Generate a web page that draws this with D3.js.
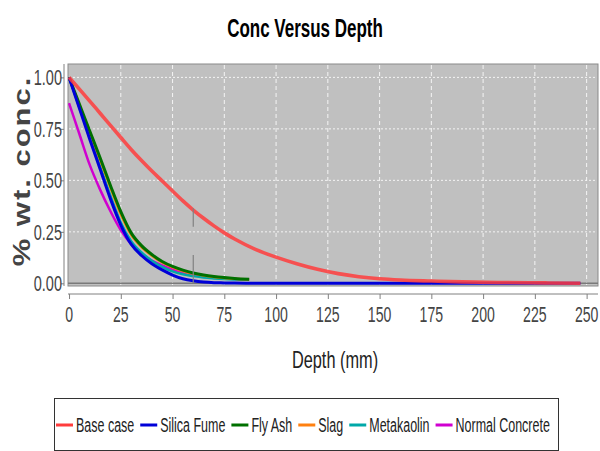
<!DOCTYPE html>
<html><head><meta charset="utf-8">
<script src="https://cdn.jsdelivr.net/npm/d3@7"></script>
<style>body{margin:0;background:#fff}svg{display:block}</style>
</head><body><svg id="c" width="600" height="451"></svg>
<script>
// ---- data ----
const seriesNames = ["Base case","Silica Fume","Fly Ash","Slag","Metakaolin","Normal Concrete"];
const seriesColors = ["#ff3c3c","#0000d8","#007000","#ff8010","#00a8a8","#d000d0"];
const depthsLong  = [0,5,10,15,20,25,30,35,40,45,50,55,60,65,70,75,80,90,100,110,120,130,140,150,160,175,190,210,230,247];
const depthsShort = [0,5,10,15,20,25,30,35,40,45,50,55,60,65,70,75,80,87];
const baseCase   = [1.0,0.943,0.885,0.826,0.767,0.708,0.65,0.596,0.545,0.497,0.448,0.4,0.356,0.316,0.279,0.245,0.215,0.165,0.127,0.095,0.068,0.047,0.032,0.022,0.016,0.011,0.007,0.004,0.002,0.0];
const silicaFume = [1.0,0.85,0.70,0.555,0.41,0.283,0.19,0.135,0.095,0.065,0.04,0.022,0.012,0.006,0.003,0.002,0.001,0,0,0,0,0,0,0,0,0,0,0,0,0];
const flyAsh     = [1.0,0.87,0.74,0.61,0.475,0.348,0.245,0.183,0.14,0.106,0.082,0.064,0.05,0.04,0.033,0.028,0.024,0.02];
const slag       = [1.0,0.865,0.732,0.6,0.465,0.335,0.235,0.176,0.134,0.101,0.078,0.06,0.047,0.038,0.031,0.026,0.022,0.019];
const metakaolin = [1.0,0.855,0.71,0.568,0.425,0.295,0.205,0.15,0.11,0.08,0.058,0.044,0.035,0.028,0.024,0.021,0.019,0.017];
const normalConc = [0.875,0.725,0.575,0.455,0.35,0.258,0.19,0.145,0.11,0.087,0.068,0.053,0.042,0.034,0.028,0.024,0.021,0.019];
const xTicks = [0,25,50,75,100,125,150,175,200,225,250];
const yTicks = [0,0.25,0.5,0.75,1.0];
const markerDepth = 60;
const markerSegments = [[0.364,0.275],[0.137,0.0]];

const series = [
  {name:seriesNames[0], color:seriesColors[0], d:depthsLong,  v:baseCase, w:3.6, op:0.85},
  {name:seriesNames[1], color:seriesColors[1], d:depthsLong,  v:silicaFume, w:3, op:1},
  {name:seriesNames[2], color:seriesColors[2], d:depthsShort, v:flyAsh, w:3, op:1},
  {name:seriesNames[3], color:seriesColors[3], d:depthsShort, v:slag, w:2.5, op:1},
  {name:seriesNames[4], color:seriesColors[4], d:depthsShort, v:metakaolin, w:2.5, op:1},
  {name:seriesNames[5], color:seriesColors[5], d:depthsShort, v:normalConc, w:2.5, op:1}
];

// ---- layout ----
const svg = d3.select("#c");
const L=68, R=598, T=64, B=286;
const x = d3.scaleLinear().domain([-0.5,255.5]).range([L,R]);
const y = d3.scaleLinear().domain([-0.013,1.065]).range([B,T]);
const SX = 0.7;
const font = "'Liberation Sans', Arial, sans-serif";

function txt(xp, yp, s, opts){
  const t = svg.append("text")
    .attr("transform", `translate(${xp},${yp}) scale(${opts.sx||SX},${opts.sy||1})`)
    .attr("text-anchor", opts.anchor||"middle")
    .attr("font-family", font)
    .attr("font-size", opts.size||20)
    .attr("font-weight", opts.bold?"bold":"normal")
    .attr("fill", opts.fill||"#000")
    .text(s);
  if(opts.dy) t.attr("dy", opts.dy);
  return t;
}

// title
txt(305, 37, "Conc Versus Depth", {size:25, bold:true, sx:0.68});

// plot background
svg.append("rect").attr("x",L).attr("y",T).attr("width",R-L).attr("height",B-T)
  .attr("fill","#c0c0c0").attr("stroke","#8a8a8a").attr("stroke-width",1);

// gridlines
svg.append("g").selectAll("line").data(xTicks.filter(d=>d>0)).join("line")
  .attr("x1",d=>x(d)).attr("x2",d=>x(d)).attr("y1",T+1).attr("y2",B-1)
  .attr("stroke","#f4f4f4").attr("stroke-width",1).attr("stroke-dasharray","4,3");
svg.append("g").selectAll("line").data(yTicks.filter(d=>d>0)).join("line")
  .attr("x1",L+1).attr("x2",R-1).attr("y1",d=>y(d)).attr("y2",d=>y(d))
  .attr("stroke","#f4f4f4").attr("stroke-width",1).attr("stroke-dasharray","2,2");
// zero line
svg.append("line").attr("x1",L).attr("x2",R).attr("y1",y(0)).attr("y2",y(0))
  .attr("stroke","#7a7a7a").attr("stroke-width",1.5);

// curves (drawn in reverse so Base case is on top)
const line = d3.line().x(d=>x(d[0])).y(d=>y(d[1])).curve(d3.curveMonotoneX);
svg.append("clipPath").attr("id","pc").append("rect")
  .attr("x",L).attr("y",T).attr("width",R-L).attr("height",B-T);
const gl = svg.append("g").attr("clip-path","url(#pc)");
series.slice().reverse().forEach(s=>{
  gl.append("path").datum(s.d.map((d,i)=>[d,s.v[i]]))
    .attr("d",line).attr("fill","none").attr("stroke",s.color)
    .attr("stroke-width",s.w).attr("stroke-opacity",s.op)
    .attr("stroke-linejoin","round");
});

// marker at depth 60
markerSegments.forEach(seg=>{
  svg.append("line").attr("x1",x(markerDepth)).attr("x2",x(markerDepth))
    .attr("y1",y(seg[0])).attr("y2",y(seg[1]))
    .attr("stroke","#808080").attr("stroke-width",1.2);
});

// y axis
const yAx = svg.append("g").attr("transform",`translate(${L-4},0)`)
  .call(d3.axisLeft(y).tickValues(yTicks).tickSize(3).tickFormat(d3.format(".2f")));
yAx.select(".domain").attr("stroke","#808080").attr("d",`M-0,${T}V${B}`);
yAx.selectAll(".tick line").attr("stroke","#808080");
yAx.selectAll(".tick text").remove();
yTicks.forEach(v=>{
  txt(L-6, y(v), d3.format(".2f")(v), {size:22, anchor:"end", fill:"#444", dy:"0.36em", sx:0.66});
});

// x axis
const xAx = svg.append("g").attr("transform",`translate(0,${B+8})`)
  .call(d3.axisBottom(x).tickValues(xTicks).tickSize(5).tickFormat(d3.format("d")));
xAx.select(".domain").attr("stroke","#808080").attr("d",`M${L},0H${R}`);
xAx.selectAll(".tick line").attr("stroke","#808080");
xAx.selectAll(".tick text").remove();
xTicks.forEach(v=>{
  txt(x(v), 322, String(v), {size:22, fill:"#444", sx:0.64});
});

// axis labels
txt(335, 368, "Depth (mm)", {size:24, fill:"#222", sx:0.68});
svg.append("text")
  .attr("transform",`translate(30,171) rotate(-90) scale(1,0.78)`)
  .attr("text-anchor","middle").attr("font-family",font).attr("font-size",31)
  .attr("font-weight","bold").attr("fill","#444").attr("letter-spacing","2")
  .text("% wt. conc.");

// legend
const lg = svg.append("g");
lg.append("rect").attr("x",54.5).attr("y",398.5).attr("width",504).attr("height",52)
  .attr("fill","#fff").attr("stroke","#333").attr("stroke-width",1);
const LS = 0.64, ly = 425;
let cx = 56;
series.forEach(s=>{
  lg.append("line").attr("x1",cx).attr("x2",cx+17).attr("y1",ly).attr("y2",ly)
    .attr("stroke",s.color).attr("stroke-width",3);
  const t = lg.append("text").attr("font-family",font).attr("font-size",19.5).attr("fill","#222")
    .attr("transform",`translate(${cx+20},${ly}) scale(${LS},1)`).attr("dy","0.36em").text(s.name);
  const w = t.node().getComputedTextLength()*LS;
  cx += 20 + w + 6;
});
</script></body></html>
